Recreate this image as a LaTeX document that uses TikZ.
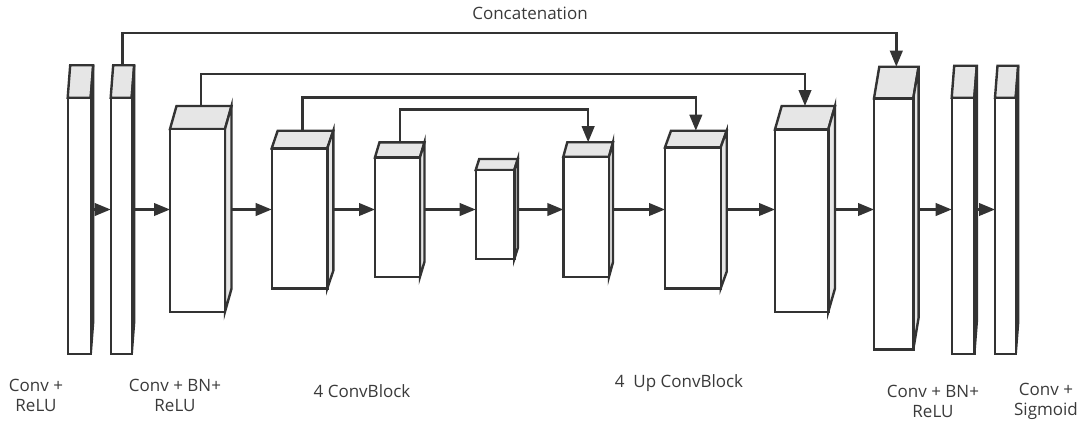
\documentclass[tikz,border=0pt]{standalone}
\usepackage{fontspec}
\setmainfont{Open Sans}
\usetikzlibrary{arrows.meta,calc}
\definecolor{lc}{HTML}{333333}
\definecolor{fc}{HTML}{E6E6E6}
\definecolor{tc}{HTML}{3A3A3A}
\tikzset{
  ln/.style={draw=lc, line width=2.4pt},
  arr/.style={ln, -{Triangle[length=16pt,width=12.5pt]}},
  face/.style={ln, fill=fc, line join=miter},
  front/.style={ln, fill=white, rectangle, inner sep=0pt, outer sep=0pt, anchor=north west},
  lbl/.style={text=tc, align=center, inner sep=0pt, font=\fontsize{17}{20}\selectfont}
}
% name, x1, x2, ytop, ybot, dx, dy
\newcommand\cubeblock[7]{%
  \draw[face] (#2,#4) -- ({#2+#6},{#4-#7}) -- ({#3+#6},{#4-#7}) -- (#3,#4) -- cycle;
  \draw[face] (#3,#4) -- ({#3+#6},{#4-#7}) -- ({#3+#6},{#5-#7}) -- (#3,#5) -- cycle;
  \node[front, minimum width={(#3-#2)*1pt}, minimum height={(#5-#4)*1pt}] (#1) at (#2,#4) {};
  \coordinate (#1-top) at ({(#2+#3+#6)/2},{#4-#7});
  \coordinate (#1-r) at ({#3+#6},#4);
}
\begin{document}
\begin{tikzpicture}[x=1pt,y=-1pt]
\useasboundingbox (0,0) rectangle (1082,424);
\coordinate (ay) at (0,209.5);
\coordinate (s1) at (0,33);
\coordinate (s2) at (0,74);
\coordinate (s3) at (0,97.3);
\coordinate (s4) at (0,109.3);

\cubeblock{b1}{67.7}{90.7}{97.7}{354}{2.5}{32.5}
\cubeblock{b2}{110.7}{131.7}{97.7}{354}{2.5}{32.5}
\cubeblock{b3}{170}{225}{129}{311.7}{6.5}{23}
\cubeblock{b4}{271.7}{327.3}{148.3}{288.3}{6}{17.6}
\cubeblock{b5}{375}{420}{157.3}{276.7}{4.5}{15}
\cubeblock{b6}{475.7}{514.3}{170}{259}{3.5}{11}
\cubeblock{b7}{563.3}{609}{156.7}{276.7}{4}{14.5}
\cubeblock{b8}{665}{720.7}{147.3}{288.3}{6}{16.6}
\cubeblock{b9}{775}{828.3}{129.3}{311.7}{6.7}{23.3}
\cubeblock{b10}{874}{913.3}{98.3}{349.3}{5.3}{31.6}
\cubeblock{b11}{951.7}{974.3}{97.7}{354}{2.5}{32}
\cubeblock{b12}{995}{1015.7}{97.7}{354}{2.5}{32}

% forward arrows
\foreach \a/\b in {b1/b2,b2/b3,b3/b4,b4/b5,b5/b6,b6/b7,b7/b8,b8/b9,b9/b10,b10/b11,b11/b12}
  \draw[arr] (\a-r |- ay) -- (\b.west |- ay);

% skip connections
\draw[arr] (b2-top) -- (b2-top |- s1) -| (b10-top);
\draw[arr] (b3-top) -- (b3-top |- s2) -| (b9-top);
\draw[arr] (b4-top) -- (b4-top |- s3) -| (b8-top);
\draw[arr] (b5-top) -- (b5-top |- s4) -| (b7-top);

% labels
\node[lbl] (lcat) at (530,13) {Concatenation};
\node[lbl] (l1) at (36,395) {Conv +\\ReLU};
\node[lbl] (l2) at (175,395) {Conv + BN+\\ReLU};
\node[lbl] (l3) at (362,391) {4 ConvBlock};
\node[lbl] (l4) at (679,383) {4~~Up ConvBlock};
\node[lbl] (l5) at (933,401) {Conv + BN+\\ReLU};
\node[lbl] (l6) at (1046,401) {Conv +\\Sigmoid};
\end{tikzpicture}
\end{document}
